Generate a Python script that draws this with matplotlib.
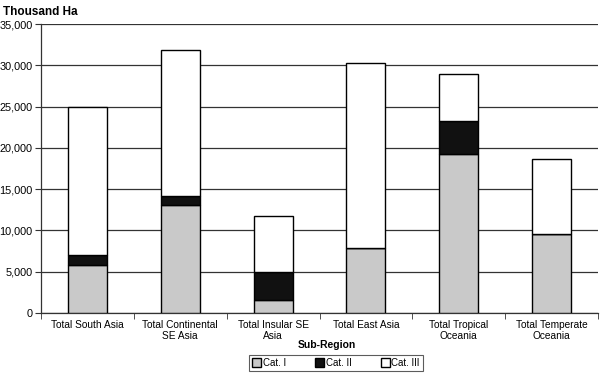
import matplotlib
matplotlib.use("Agg")
import matplotlib.pyplot as plt
from matplotlib.ticker import FuncFormatter, FixedLocator
import numpy as np

plt.rcParams['font.family'] = ['Liberation Sans', 'DejaVu Sans']

categories = ["Total South Asia", "Total Continental\nSE Asia", "Total Insular SE\nAsia",
              "Total East Asia", "Total Tropical\nOceania", "Total Temperate\nOceania"]
cat1 = [5800, 13100, 1600, 7900, 19250, 9500]
cat2 = [1200, 1100, 3400, 0, 4050, 0]
totals = [25000, 31800, 11700, 30250, 28900, 18600]
cat3 = [t - a - b for t, a, b in zip(totals, cat1, cat2)]
series_names = ["Cat. I", "Cat. II", "Cat. III"]

fig = plt.figure(figsize=(6, 3.76), dpi=100)
ax = fig.add_axes([0.068, 0.168, 0.929, 0.768])

x = np.arange(len(categories))
w = 0.42
b1 = ax.bar(x, cat1, w, color='#c9c9c9', edgecolor='black', linewidth=1.0, label=series_names[0], zorder=3)
b2 = ax.bar(x, cat2, w, bottom=cat1, color='#111111', edgecolor='black', linewidth=1.0, label=series_names[1], zorder=3)
bottom3 = [a + b for a, b in zip(cat1, cat2)]
b3 = ax.bar(x, cat3, w, bottom=bottom3, color='white', edgecolor='black', linewidth=1.0, label=series_names[2], zorder=3)

ax.set_xlim(-0.5, len(categories) - 0.5)
ax.set_ylim(0, 35000)
ax.set_yticks(np.arange(0, 35001, 5000))
ax.yaxis.set_major_formatter(FuncFormatter(lambda v, p: f"{int(v):,}"))
ax.yaxis.grid(True, color='#333333', linewidth=0.9, zorder=0)
ax.set_axisbelow(True)

ax.set_xticks(x)
ax.set_xticklabels(categories, fontsize=7.3)
ax.tick_params(axis='x', length=0, pad=5)
ax.xaxis.set_minor_locator(FixedLocator(np.arange(-0.5, len(categories), 1.0)))
ax.tick_params(axis='x', which='minor', length=4, direction='out', color='#333333')
ax.tick_params(axis='y', labelsize=7.8, length=4, direction='out', pad=2, color='#333333')

for s in ['top', 'right']:
    ax.spines[s].set_visible(False)
ax.spines['left'].set_color('#333333')
ax.spines['bottom'].set_color('#333333')
ax.spines['left'].set_linewidth(0.9)
ax.spines['bottom'].set_linewidth(0.9)

fig.text(0.545, 0.083, "Sub-Region", fontsize=7.5, fontweight='bold', ha='center', va='center')
fig.text(0.005, 0.968, "Thousand Ha", fontsize=8.5, fontweight='bold', ha='left', va='center')

leg = fig.legend(handles=[b1, b2, b3], labels=series_names, loc='center', bbox_to_anchor=(0.56, 0.035),
                 ncol=3, fontsize=7, frameon=True, fancybox=False, edgecolor='#333333',
                 handlelength=0.9, handleheight=0.9, handletextpad=0.2, columnspacing=3.0,
                 borderpad=0.3)
leg.get_frame().set_linewidth(0.8)

fig.savefig("out.png", dpi=100)
